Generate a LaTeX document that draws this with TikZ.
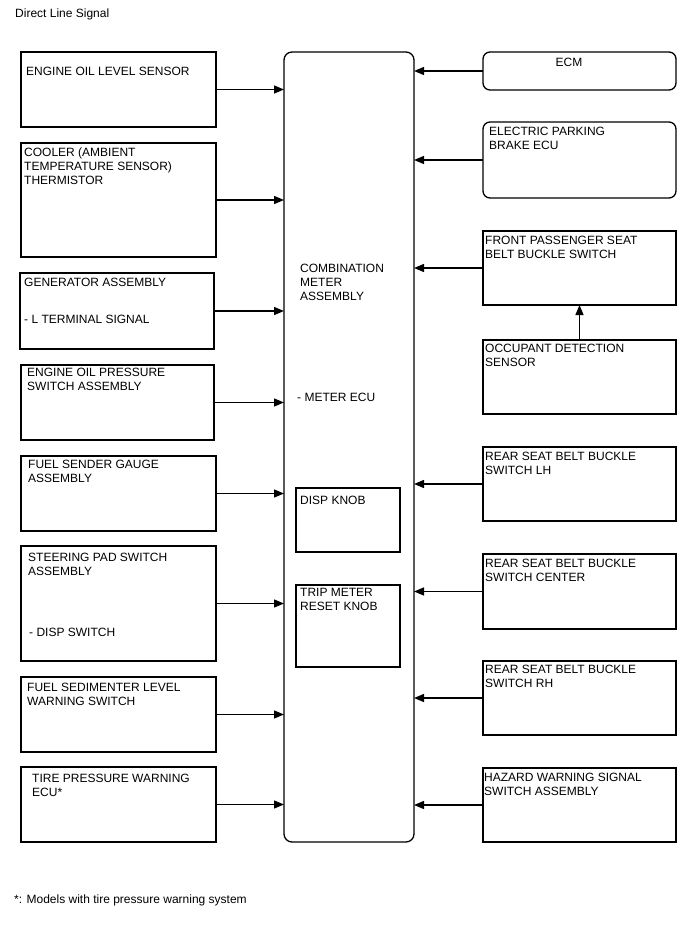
\documentclass[tikz,border=0pt]{standalone}
\usepackage{fontspec}
\setmainfont{Liberation Sans}
\usetikzlibrary{arrows.meta,calc}
\begin{document}
\begin{tikzpicture}[x=1pt,y=-1pt,
  box/.style={draw=black,line width=1.3pt,anchor=north west,inner sep=0pt,outer sep=0pt},
  rbox/.style={box,rounded corners=7pt},
  txt/.style={anchor=north west,inner sep=0pt,align=left,font=\fontsize{12}{14}\selectfont,execute at begin node=\strut},
  arr/.style={line width=1.3pt,-{Triangle[length=10pt,width=8pt]}}]
\useasboundingbox (0,0) rectangle (688,949);
\node[txt] (title) at (15,7.5) {Direct Line Signal};
% center
\node[rbox,rounded corners=8pt,minimum width=130,minimum height=790] (meter) at (284,52) {};
\node[txt] (mt) at (300,263.5) {COMBINATION\\METER\\ASSEMBLY};
\node[txt] (me) at (297,391.5) {- METER ECU};
\node[box,minimum width=104,minimum height=64] (disp) at (296,488) {};
\node[txt] (dt) at (300,494.5) {DISP KNOB};
\node[box,minimum width=104,minimum height=82] (trip) at (296,585) {};
\node[txt] (tt) at (300,588.5) {TRIP METER\\RESET KNOB};
% left column
\node[box,minimum width=195,minimum height=75] (l1) at (21,52) {};
\node[txt] at (26,65.5) {ENGINE OIL LEVEL SENSOR};
\node[box,minimum width=195,minimum height=114] (l2) at (21,143) {};
\node[txt] at (24,147.5) {COOLER (AMBIENT\\TEMPERATURE SENSOR)\\THERMISTOR};
\node[box,minimum width=194,minimum height=76] (l3) at (20,273) {};
\node[txt] at (24,276.5) {GENERATOR ASSEMBLY};
\node[txt] at (24,313.5) {- L TERMINAL SIGNAL};
\node[box,minimum width=193,minimum height=75] (l4) at (21,365) {};
\node[txt] at (27,367.5) {ENGINE OIL PRESSURE\\SWITCH ASSEMBLY};
\node[box,minimum width=195,minimum height=75] (l5) at (21,456) {};
\node[txt] at (28,459.5) {FUEL SENDER GAUGE\\ASSEMBLY};
\node[box,minimum width=195,minimum height=115] (l6) at (21,546) {};
\node[txt] at (28,552.5) {STEERING PAD SWITCH\\ASSEMBLY};
\node[txt] at (29,626.5) {- DISP SWITCH};
\node[box,minimum width=195,minimum height=75] (l7) at (21,677) {};
\node[txt] at (27,682.5) {FUEL SEDIMENTER LEVEL\\WARNING SWITCH};
\node[box,minimum width=195,minimum height=75] (l8) at (21,767) {};
\node[txt] at (32,773.5) {TIRE PRESSURE WARNING\\ECU*};
% right column
\node[rbox,minimum width=193,minimum height=38] (r1) at (483,52) {};
\node[txt,anchor=north] at (569,56.5) {ECM};
\node[rbox,minimum width=193,minimum height=76] (r2) at (483,122) {};
\node[txt] at (489,126.5) {ELECTRIC PARKING\\BRAKE ECU};
\node[box,minimum width=193,minimum height=74] (r3) at (483,231) {};
\node[txt] at (485,235.5) {FRONT PASSENGER SEAT\\BELT BUCKLE SWITCH};
\node[box,minimum width=193,minimum height=74] (occ) at (483,340) {};
\node[txt] at (485,343.5) {OCCUPANT DETECTION\\SENSOR};
\node[box,minimum width=193,minimum height=74] (r4) at (483,447) {};
\node[txt] at (485,451.5) {REAR SEAT BELT BUCKLE\\SWITCH LH};
\node[box,minimum width=193,minimum height=75] (r5) at (483,554) {};
\node[txt] at (485,558.5) {REAR SEAT BELT BUCKLE\\SWITCH CENTER};
\node[box,minimum width=193,minimum height=74] (r6) at (483,661) {};
\node[txt] at (485,664.5) {REAR SEAT BELT BUCKLE\\SWITCH RH};
\node[box,minimum width=193,minimum height=74] (r7) at (483,768) {};
\node[txt] at (484,772.5) {HAZARD WARNING SIGNAL\\SWITCH ASSEMBLY};
% arrows
\foreach \n in {l1,l2,l3,l4,l5,l6,l7,l8}{\draw[arr] (\n.east) -- (\n.east -| meter.west);}
\foreach \n in {r1,r2,r3,r4,r5,r6,r7}{\draw[arr] (\n.west) -- (\n.west -| meter.east);}
\draw[arr] (occ.north) -- (r3.south);
\node[txt] (foot) at (14,893.5) {*: Models with tire pressure warning system};
\end{tikzpicture}
\end{document}
